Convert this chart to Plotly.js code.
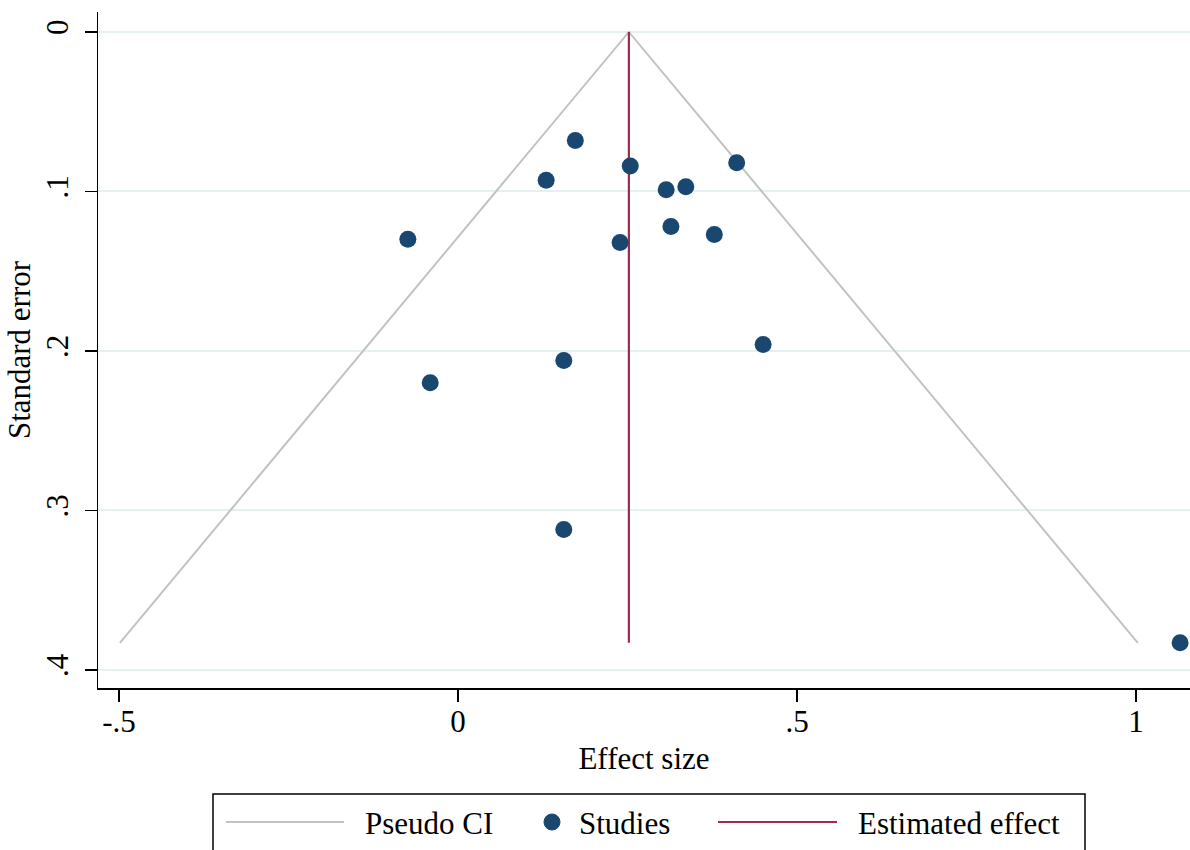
<!DOCTYPE html>
<html>
<head>
<meta charset="utf-8">
<script src="https://cdn.plot.ly/plotly-3.0.1.min.js"></script>
<style>html,body{margin:0;padding:0;background:#fff;}#chart{width:1190px;height:850px;}</style>
</head>
<body>
<div id="chart"></div>
<script>
// Study effect sizes and standard errors
var studyEffect = [0.173, 0.130, 0.254, 0.411, 0.307, 0.336, -0.074, 0.239, 0.314, 0.378, 0.450, 0.156, -0.041, 0.156, 1.065];
var studySE     = [0.068, 0.093, 0.084, 0.082, 0.099, 0.097, 0.130, 0.132, 0.122, 0.127, 0.196, 0.206, 0.220, 0.312, 0.383];

// Pooled estimate and largest SE for the pseudo 95% CI
var estimatedEffect = 0.252;
var maxSE = 0.383;
var zCrit = 1.96;

var xTickVals = [-0.5, 0, 0.5, 1];
var xTickText = ["-.5", "0", ".5", "1"];
var yTickVals = [0, 0.1, 0.2, 0.3, 0.4];
var yTickText = ["0", ".1", ".2", ".3", ".4"];

var legendLabels = ["Pseudo CI", "Studies", "Estimated effect"];

var ciColor = "#c2c2c2", studyColor = "#1a476f", effectColor = "#a02a4c";
var ciX = [estimatedEffect - zCrit * maxSE, estimatedEffect, estimatedEffect + zCrit * maxSE];
var ciY = [maxSE, 0, maxSE];

var font = "Liberation Serif, Times New Roman, serif";
var W = 1190, H = 850;
var M = {l: 98, r: 0, t: 12, b: 162};
var pw = W - M.l - M.r, ph = H - M.t - M.b;
function px(xp) { return (xp - M.l) / pw; }
function py(yp) { return (H - M.b - yp) / ph; }

var traces = [
  {x: ciX, y: ciY, mode: "lines", name: legendLabels[0], type: "scatter",
   line: {color: ciColor, width: 2}, hoverinfo: "skip"},
  {x: [estimatedEffect, estimatedEffect], y: [0, maxSE], mode: "lines", name: legendLabels[2], type: "scatter",
   line: {color: effectColor, width: 2.2}},
  {x: studyEffect, y: studySE, mode: "markers", name: legendLabels[1], type: "scatter",
   marker: {color: studyColor, size: 17}, cliponaxis: false}
];

// Stata-style legend box below the plot
var legY = 822;
var shapes = [
  {type: "rect", xref: "paper", yref: "paper", x0: px(213), x1: px(1085), y0: py(794), y1: py(880),
   line: {color: "#000", width: 1.5}, fillcolor: "rgba(0,0,0,0)"},
  {type: "line", xref: "paper", yref: "paper", x0: px(226), x1: px(344), y0: py(legY), y1: py(legY),
   line: {color: ciColor, width: 2}},
  {type: "circle", xref: "paper", yref: "paper", x0: px(544), x1: px(560), y0: py(legY - 8), y1: py(legY + 8),
   line: {color: studyColor, width: 1}, fillcolor: studyColor},
  {type: "line", xref: "paper", yref: "paper", x0: px(718), x1: px(837), y0: py(legY), y1: py(legY),
   line: {color: effectColor, width: 2.2}}
];
var legTextX = [363, 577, 856];
var annotations = legendLabels.map(function (t, i) {
  return {text: t, xref: "paper", yref: "paper", x: px(legTextX[i]), y: py(legY + 1),
          xanchor: "left", yanchor: "middle", showarrow: false,
          font: {family: font, size: 31, color: "#000"}};
});

var layout = {
  width: W, height: H,
  paper_bgcolor: "#ffffff", plot_bgcolor: "#ffffff",
  margin: M,
  font: {family: font, size: 31, color: "#000"},
  showlegend: false,
  xaxis: {
    range: [-0.531, 1.0796], tickvals: xTickVals, ticktext: xTickText,
    showline: true, linecolor: "#000", linewidth: 1.5,
    ticks: "outside", ticklen: 12, tickwidth: 1.5, tickcolor: "#000",
    showgrid: false, zeroline: false, ticklabelstandoff: -7,
    tickfont: {family: font, size: 31},
    title: {text: "Effect size", font: {family: font, size: 31}, standoff: 9}
  },
  yaxis: {
    range: [0.4113, -0.0125], tickvals: yTickVals, ticktext: yTickText,
    showline: true, linecolor: "#000", linewidth: 1.5,
    ticks: "outside", ticklen: 12, tickwidth: 1.5, tickcolor: "#000",
    showgrid: true, gridcolor: "#e6eff1", gridwidth: 2, zeroline: false,
    tickangle: -90, ticklabelstandoff: 4,
    tickfont: {family: font, size: 31},
    title: {text: "Standard error", font: {family: font, size: 31}, standoff: 0}
  },
  shapes: shapes,
  annotations: annotations
};

Plotly.newPlot("chart", traces, layout, {displayModeBar: false, staticPlot: true});
</script>
</body>
</html>
